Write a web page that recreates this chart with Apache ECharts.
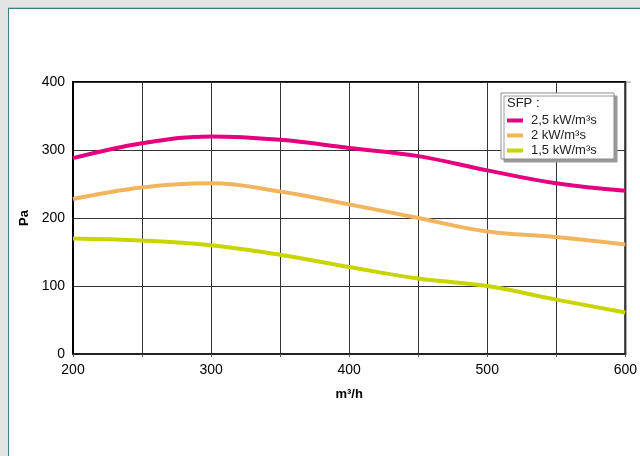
<!DOCTYPE html>
<html>
<head>
<meta charset="utf-8">
<script src="https://cdn.jsdelivr.net/npm/echarts@6/dist/echarts.min.js"></script>
<style>
html,body{margin:0;padding:0;background:#e4e4e4;width:640px;height:456px;overflow:hidden;}
#panel{position:absolute;left:8px;top:8px;width:640px;height:460px;background:#fff;border-left:1px solid #3d7f80;border-top:1px solid #3d7f80;box-shadow:0 -1px 0 #b8c4c4;}
#chart{position:absolute;left:0;top:0;width:640px;height:456px;}
</style>
</head>
<body>
<div id="panel"></div>
<div id="chart"></div>
<script>
// Data
var airflow = [200, 250, 300, 350, 400, 450, 500, 550, 600];
var sfp25 = [288, 310, 320, 315, 303, 291, 270, 251, 240];
var sfp20 = [228, 245, 251, 239, 220, 200, 180, 172, 161];
var sfp15 = [170, 167, 160, 146, 128, 111, 100, 80, 61];
var seriesNames = ['2,5 kW/m³s', '2 kW/m³s', '1,5 kW/m³s'];
var seriesColors = ['#e5007e', '#f2b55f', '#c8d500'];
var legendTitle = 'SFP :';
var xName = 'm³/h';
var yName = 'Pa';

function pairs(ys) { return airflow.map(function (x, i) { return [x, ys[i]]; }); }

var chart = echarts.init(document.getElementById('chart'), null, {renderer: 'canvas'});
var font = 'Liberation Sans, Arial, Helvetica, sans-serif';
var option = {
  animation: false,
  backgroundColor: 'transparent',
  textStyle: {fontFamily: font},
  grid: {left: 73, right: 14, top: 82, bottom: 102, show: true, borderColor: '#000', borderWidth: 2, backgroundColor: 'transparent'},
  xAxis: {
    type: 'value', min: 200, max: 600, interval: 50,
    name: xName, nameLocation: 'middle', nameGap: 34,
    nameTextStyle: {fontSize: 13, fontWeight: 'bold', color: '#000', fontFamily: font},
    axisLine: {show: true, lineStyle: {color: '#222', width: 2}},
    axisTick: {show: true, length: 3, lineStyle: {color: '#555', width: 1}},
    axisLabel: {fontSize: 14, color: '#000', margin: 9, fontFamily: font,
      formatter: function (v) { return v % 100 === 0 ? String(v) : ''; }},
    splitLine: {show: true, lineStyle: {color: '#333', width: 1}}
  },
  yAxis: {
    type: 'value', min: 0, max: 400, interval: 100,
    name: yName, nameLocation: 'middle', nameGap: 39, nameRotate: 90,
    nameTextStyle: {fontSize: 13, fontWeight: 'bold', color: '#000', fontFamily: font},
    axisLine: {show: true, lineStyle: {color: '#000', width: 2}},
    axisTick: {show: false},
    axisLabel: {fontSize: 14, color: '#000', margin: 8, padding: [0, 0, 8, 0], fontFamily: font},
    splitLine: {show: true, lineStyle: {color: '#333', width: 1}}
  },
  legend: {
    z: 8,
    orient: 'vertical', left: 507, top: 114, itemWidth: 16, itemHeight: 4, itemGap: 2,
    icon: 'rect', padding: 0,
    textStyle: {fontSize: 13, color: '#222', fontFamily: font, padding: [0, 0, 0, 3]},
    data: seriesNames
  },
  graphic: [
    {type: 'rect', z: 6, shape: {x: 501, y: 93, width: 113, height: 66},
      style: {fill: '#fff', stroke: '#8c8c8c', lineWidth: 1, shadowColor: '#9a9a9a', shadowOffsetX: 3, shadowOffsetY: 3, shadowBlur: 0}},
    {type: 'text', z: 10, x: 507, y: 97, style: {text: legendTitle, fontSize: 13, fill: '#222', fontFamily: font}},
    {type: 'line', z: 10, shape: {x1: 626, y1: 82, x2: 631, y2: 82}, style: {stroke: '#999', lineWidth: 1}}
  ],
  series: [sfp25, sfp20, sfp15].map(function (d, i) {
    return {
      name: seriesNames[i], type: 'line', data: pairs(d), smooth: 0.4,
      showSymbol: false, symbol: 'none', z: 3,
      lineStyle: {color: seriesColors[i], width: 4},
      itemStyle: {color: seriesColors[i]}
    };
  })
};
chart.setOption(option);
</script>
</body>
</html>
